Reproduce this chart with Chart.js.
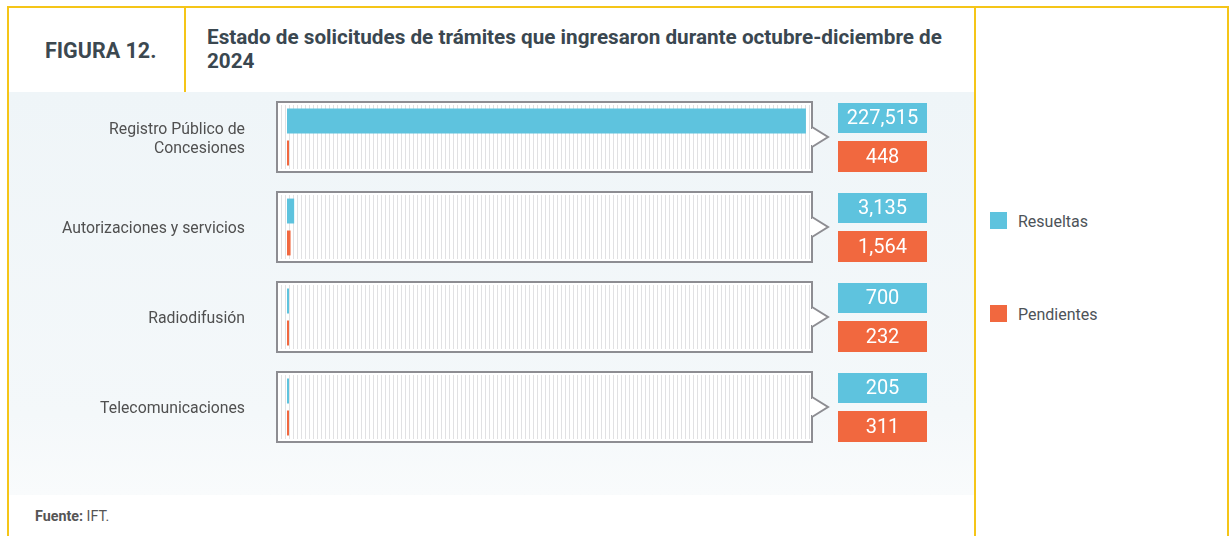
<!DOCTYPE html>
<html lang="es">
<head>
<meta charset="utf-8">
<script src="https://cdn.jsdelivr.net/npm/chart.js@4.4.1/dist/chart.umd.min.js"></script>
<style>
    body { margin: 0; width: 1231px; height: 536px; background: #fff; font-family: Roboto, sans-serif; position: relative; overflow: hidden; }
    .line { position: absolute; background: #f5c518; }
    #panel { position: absolute; left: 8px; top: 92px; width: 967px; height: 403px; background: linear-gradient(#eff5f8, #f4f8fa 80%, #f9fbfc); }
    #chartBox { position: absolute; left: 0; top: 92px; }
    #figura { position: absolute; left: 45px; top: 38px; font-size: 21.5px; font-weight: bold; color: #3c4850; }
    #titulo { position: absolute; left: 207px; top: 25px; width: 755px; font-size: 20.7px; line-height: 24px; font-weight: bold; color: #3a4750; }
    #fuente { position: absolute; left: 35px; top: 508px; font-size: 14.3px; color: #555; }
    .leyenda { position: absolute; left: 990px; font-size: 16px; color: #4d5358; }
    .leyenda span { display: inline-block; width: 17px; height: 17px; vertical-align: middle; margin-right: 11px; position: relative; top: -2px; }
</style>
</head>
<body>
<div id="panel"></div>
<div class="line" style="left:7px; top:6px; width:1222px; height:2px;"></div>
<div class="line" style="left:7px; top:6px; width:2px; height:530px;"></div>
<div class="line" style="left:184px; top:6px; width:2px; height:86px;"></div>
<div class="line" style="left:974px; top:6px; width:2px; height:530px;"></div>
<div class="line" style="left:1227px; top:6px; width:2px; height:530px;"></div>

<div id="figura">FIGURA 12.</div>
<div id="titulo">Estado de solicitudes de trámites que ingresaron durante octubre-diciembre de 2024</div>

<div id="chartBox"><canvas id="barCanvasTramites" width="975" height="400"></canvas></div>

<div class="leyenda" style="top:212px;"><span style="background:#5ec3de;"></span>Resueltas</div>
<div class="leyenda" style="top:305px;"><span style="background:#f1683f;"></span>Pendientes</div>

<div id="fuente"><b>Fuente:</b> IFT.</div>

<script>
const categorias = [['Registro Público de', 'Concesiones'], 'Autorizaciones y servicios', 'Radiodifusión', 'Telecomunicaciones'];
const resueltas = [227515, 3135, 700, 205];
const pendientes = [448, 1564, 232, 311];
const series = ['Resueltas', 'Pendientes'];
const colores = ['#5ec3de', '#f1683f'];

const canvasTramites = document.getElementById('barCanvasTramites');

// cajas rayadas detras de cada grupo y etiquetas de valor
const cajasPlugin = {
    id: 'cajas',
    beforeDatasetsDraw(chart) {
        const ctx = chart.ctx;
        const area = chart.chartArea;
        const yScale = chart.scales.y;
        const left = area.left - 10;
        const right = area.right + 2;
        ctx.save();
        categorias.forEach((c, i) => {
            const cy = yScale.getPixelForValue(i);
            const top = cy - 35, h = 70;
            ctx.fillStyle = '#ffffff';
            ctx.fillRect(left, top, right - left, h);
            ctx.strokeStyle = '#e1e1e3';
            ctx.lineWidth = 1;
            for (let x = left + 4; x < right - 2; x += 4) {
                ctx.beginPath();
                ctx.moveTo(x + 0.5, top + 3);
                ctx.lineTo(x + 0.5, top + h - 3);
                ctx.stroke();
            }
            ctx.strokeStyle = '#8d8d92';
            ctx.lineWidth = 2;
            ctx.strokeRect(left, top, right - left, h);
            // flecha
            ctx.beginPath();
            ctx.moveTo(right, cy - 10);
            ctx.lineTo(right + 16, cy);
            ctx.lineTo(right, cy + 10);
            ctx.fillStyle = '#ffffff';
            ctx.fill();
            ctx.stroke();
            ctx.fillRect(right - 2, cy - 8, 3, 16);
        });
        ctx.restore();
    },
    afterDatasetsDraw(chart) {
        const ctx = chart.ctx;
        const area = chart.chartArea;
        const yScale = chart.scales.y;
        const bx = area.right + 28;
        const bw = 89;
        ctx.save();
        ctx.font = '20px Roboto';
        ctx.textAlign = 'center';
        ctx.textBaseline = 'middle';
        chart.data.datasets.forEach((ds, d) => {
            ds.data.forEach((v, i) => {
                const cy = yScale.getPixelForValue(i);
                const top = d === 0 ? cy - 34 : cy + 4;
                const h = d === 0 ? 30 : 31;
                ctx.fillStyle = colores[d];
                ctx.fillRect(bx, top, bw, h);
                ctx.fillStyle = '#ffffff';
                ctx.fillText(v.toLocaleString('en-US'), bx + bw / 2, top + h / 2 + 1);
            });
        });
        ctx.restore();
    }
};

new Chart(canvasTramites, {
    type: 'bar',
    data: {
        labels: categorias,
        datasets: [
            { label: series[0], data: resueltas, backgroundColor: colores[0], categoryPercentage: 0.71, barPercentage: 0.78, minBarLength: 2 },
            { label: series[1], data: pendientes, backgroundColor: colores[1], categoryPercentage: 0.71, barPercentage: 0.78, minBarLength: 2 }
        ]
    },
    options: {
        indexAxis: 'y',
        responsive: false,
        animation: false,
        layout: { padding: { top: 0, right: 165, bottom: 40, left: 0 } },
        plugins: {
            legend: { display: false },
            tooltip: { enabled: false }
        },
        scales: {
            x: { display: false, min: 0, max: 229300 },
            y: {
                grid: { display: false, drawTicks: false },
                border: { display: false },
                ticks: {
                    padding: 42,
                    labelOffset: 2.5,
                    color: '#505050',
                    font: { family: 'Roboto', size: 15.8, lineHeight: 1.2 }
                },
                afterFit(scale) {
                    scale.width = 287;
                    scale.paddingTop = 0;
                    scale.paddingBottom = 0;
                }
            }
        }
    },
    plugins: [cajasPlugin]
});
</script>
</body>
</html>
